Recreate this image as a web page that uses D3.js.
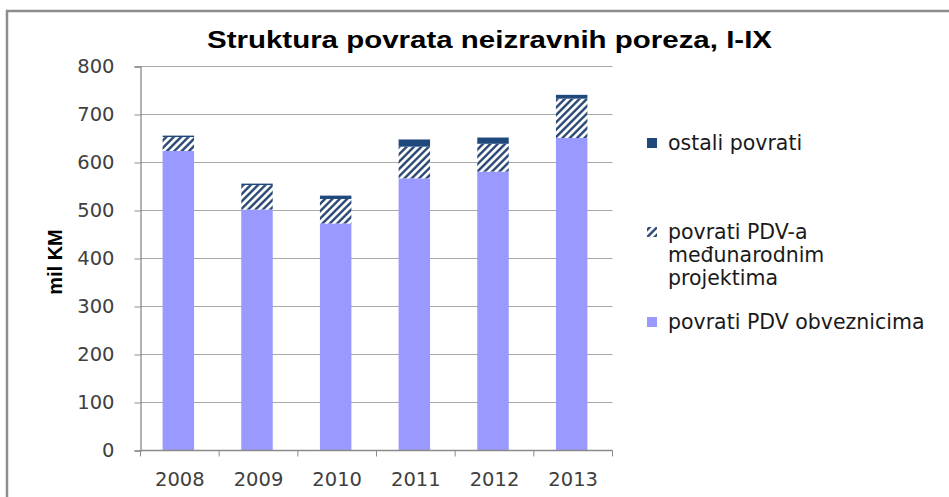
<!DOCTYPE html>
<html lang="bs">
<head>
    <meta charset="UTF-8">
    <title>Struktura povrata neizravnih poreza, I-IX</title>
    <script src="https://d3js.org/d3.v7.min.js"></script>
    <style>
        body { margin: 0; background: #fff; }
        svg { display: block; }
    </style>
</head>
<body>
    <svg></svg>

    <script>
        const width = 949, height = 497;

// vrijednosti ocitane sa slike (mil KM)
const godine = ["2008", "2009", "2010", "2011", "2012", "2013"];
const obveznicima = [624, 502, 473, 567, 581, 651];
const projektima = [29, 51, 51, 66, 58, 82];
const ostali = [3, 3, 7, 15, 13, 8];
const yTicks = [0, 100, 200, 300, 400, 500, 600, 700, 800];

const boje = { obveznicima: "#9999ff", projektima: "#1f3f6e", ostali: "#1f497d" };

const svg = d3.select("svg")
    .attr("width", width)
    .attr("height", height);

const defs = svg.append("defs");
const pat = defs.append("pattern")
    .attr("id", "hatch")
    .attr("patternUnits", "userSpaceOnUse")
    .attr("width", 5.2)
    .attr("height", 5.2)
    .attr("patternTransform", "rotate(45)");
pat.append("rect").attr("width", 5.2).attr("height", 5.2).attr("fill", "#fff");
pat.append("line")
    .attr("x1", 1.3).attr("y1", 0).attr("x2", 1.3).attr("y2", 5.2)
    .attr("stroke", boje.projektima)
    .attr("stroke-width", 2.3);

// okvir
svg.append("rect")
    .attr("x", 7).attr("y", 11)
    .attr("width", 980).attr("height", 520)
    .attr("fill", "none")
    .attr("stroke", "#8c8c8c")
    .attr("stroke-width", 2.5);

const x = d3.scaleBand().domain(godine).range([140.5, 612.5]);
const y = d3.scaleLinear().domain([0, 800]).range([450.5, 66.5]);

// mreza
svg.append("g")
    .selectAll("line")
    .data(yTicks.slice(1))
    .join("line")
    .attr("x1", 140.5).attr("x2", 612.5)
    .attr("y1", d => y(d)).attr("y2", d => y(d))
    .attr("stroke", "#a8a8a8")
    .attr("stroke-width", 1.2);

// stupci
const bw = x.bandwidth() * 0.4;
const bx = d => x(d) + x.bandwidth() / 2 - bw / 2 - 1.5;

const slojevi = godine.map((g, i) => {
    const a = obveznicima[i], b = a + projektima[i], c = b + ostali[i];
    return { g, a, b, c };
});

svg.append("g").selectAll("rect")
    .data(slojevi).join("rect")
    .attr("x", d => bx(d.g)).attr("width", bw)
    .attr("y", d => y(d.a)).attr("height", d => y(0) - y(d.a))
    .attr("fill", boje.obveznicima);

svg.append("g").selectAll("rect")
    .data(slojevi).join("rect")
    .attr("x", d => bx(d.g)).attr("width", bw)
    .attr("y", d => y(d.b)).attr("height", d => y(d.a) - y(d.b))
    .attr("fill", "url(#hatch)");

svg.append("g").selectAll("rect")
    .data(slojevi).join("rect")
    .attr("x", d => bx(d.g)).attr("width", bw)
    .attr("y", d => y(d.c)).attr("height", d => y(d.b) - y(d.c))
    .attr("fill", boje.ostali);

// osa y
const yAxis = svg.append("g")
    .attr("transform", "translate(140.5,0)")
    .call(d3.axisLeft(y).tickValues(yTicks).tickSize(6).tickPadding(20).tickFormat(d3.format("d")));
yAxis.select(".domain").attr("stroke", "#8a8a8a").attr("stroke-width", 1.3);
yAxis.selectAll(".tick line").attr("stroke", "#8a8a8a");
yAxis.selectAll("text")
    .attr("font-family", "DejaVu Sans")
    .attr("font-size", 19.5)
    .attr("fill", "#404040");

// osa x
const xAxis = svg.append("g")
    .attr("transform", "translate(0,450.5)");
xAxis.append("line")
    .attr("x1", 140.5).attr("x2", 612.5)
    .attr("stroke", "#8a8a8a").attr("stroke-width", 1.3);
xAxis.selectAll(".tk")
    .data(godine.concat(["kraj"]))
    .join("line")
    .attr("class", "tk")
    .attr("x1", (d, i) => 140.5 + i * x.step())
    .attr("x2", (d, i) => 140.5 + i * x.step())
    .attr("y1", 0).attr("y2", 6)
    .attr("stroke", "#8a8a8a");
xAxis.selectAll("text")
    .data(godine)
    .join("text")
    .attr("x", d => x(d) + x.bandwidth() / 2)
    .attr("y", 35)
    .attr("text-anchor", "middle")
    .attr("font-family", "DejaVu Sans")
    .attr("font-size", 19.5)
    .attr("fill", "#404040")
    .text(d => d);

// naslov osi
svg.append("text")
    .attr("transform", "translate(62,262) rotate(-90)")
    .attr("text-anchor", "middle")
    .attr("font-family", "Liberation Sans")
    .attr("font-weight", "bold")
    .attr("font-size", 20)
    .attr("fill", "#000")
    .text("mil KM");

// naslov
svg.append("text")
    .attr("x", 207).attr("y", 48)
    .attr("textLength", 565)
    .attr("lengthAdjust", "spacingAndGlyphs")
    .attr("font-family", "Liberation Sans")
    .attr("font-weight", "bold")
    .attr("font-size", 24)
    .attr("fill", "#000")
    .text("Struktura povrata neizravnih poreza, I-IX");

// legenda
const legenda = [
    { y: 143, fill: boje.ostali, redovi: ["ostali povrati"] },
    { y: 232, fill: "url(#hatch)", redovi: ["povrati PDV-a", "međunarodnim", "projektima"] },
    { y: 322, fill: boje.obveznicima, redovi: ["povrati PDV obveznicima"] }
];
const lg = svg.append("g").selectAll("g").data(legenda).join("g");
lg.append("rect")
    .attr("x", 647).attr("y", d => d.y - 5)
    .attr("width", 10).attr("height", 10)
    .attr("fill", d => d.fill);
lg.each(function (d) {
    d3.select(this).selectAll("text")
        .data(d.redovi)
        .join("text")
        .attr("x", 668)
        .attr("y", (r, i) => d.y + 7 + i * 23)
        .attr("font-family", "DejaVu Sans")
        .attr("font-size", 20.5)
        .attr("fill", "#1a1a1a")
        .text(r => r);
});

    </script>
</body>
</html>
